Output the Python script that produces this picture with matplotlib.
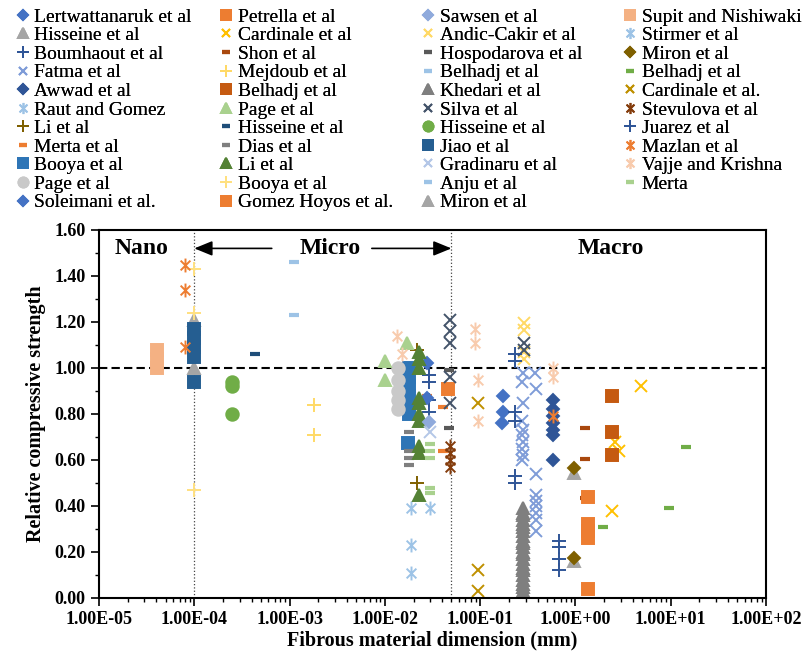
import matplotlib
matplotlib.use("Agg")
import matplotlib.pyplot as plt
from matplotlib.path import Path
from matplotlib.ticker import FuncFormatter, LogLocator, NullFormatter, MultipleLocator, FixedLocator

plt.rcParams['font.family'] = ['Liberation Serif', 'DejaVu Serif']

# fibre dimension (mm) and relative compressive strength, one pair per study
lert_x = [0.173, 0.175, 0.170]
lert_y = [0.88, 0.81, 0.76]
hisseine_tri_x = [1e-4, 1e-4]
hisseine_tri_y = [1.21, 1.00]
boumhaout_x = [0.029, 0.029, 0.029, 0.029]
boumhaout_y = [0.97, 0.94, 0.86, 0.81]
fatma_x = [0.28, 0.275, 0.28, 0.275, 0.28, 0.275, 0.28, 0.275, 0.28, 0.275,
           0.38, 0.39, 0.39, 0.39, 0.385, 0.39, 0.385, 0.39, 0.385]
fatma_y = [0.98, 0.94, 0.85, 0.77, 0.73, 0.71, 0.68, 0.65, 0.62, 0.60,
           0.98, 0.91, 0.54, 0.45, 0.42, 0.40, 0.37, 0.34, 0.29]
awwad_x = [0.58, 0.58, 0.58, 0.58, 0.58, 0.58, 0.58]
awwad_y = [0.86, 0.82, 0.79, 0.76, 0.73, 0.71, 0.60]
raut_x = [0.019, 0.019, 0.019]
raut_y = [0.39, 0.23, 0.11]
li_plus_x = [0.022, 0.022]
li_plus_y = [1.08, 0.50]
merta_dash_x = [0.028, 0.041, 0.041]
merta_dash_y = [0.88, 0.83, 0.64]
booya_sq_x = [0.018, 0.018, 0.018, 0.018, 0.018, 0.018, 0.0175]
booya_sq_y = [1.00, 0.96, 0.92, 0.88, 0.84, 0.80, 0.675]
page_circ_x = [0.0137, 0.0137, 0.0137, 0.0137, 0.0137]
page_circ_y = [1.00, 0.95, 0.90, 0.86, 0.82]
soleimani_x = [0.028, 0.028]
soleimani_y = [1.02, 0.87]
petrella_x = [0.046]
petrella_y = [0.91]
cardinale_x = [2.6, 2.9, 2.4, 4.9]
cardinale_y = [0.68, 0.64, 0.38, 0.92]
shon_x = [1.26, 1.26, 1.26]
shon_y = [0.74, 0.605, 0.435]
mejdoub_x = [0.0018, 0.0018]
mejdoub_y = [0.84, 0.71]
belhadj_sq_x = [2.4, 2.4, 2.4]
belhadj_sq_y = [0.88, 0.72, 0.62]
page_tri_x = [0.010, 0.010, 0.017]
page_tri_y = [1.03, 0.95, 1.11]
hisseine_dash_x = [4.3e-4]
hisseine_dash_y = [1.06]
dias_x = [0.018, 0.018, 0.018, 0.018]
dias_y = [0.72, 0.64, 0.61, 0.58]
li_tri_x = [0.023, 0.023, 0.023, 0.023, 0.023, 0.023, 0.023, 0.023, 0.023, 0.023]
li_tri_y = [1.07, 1.04, 1.00, 0.87, 0.85, 0.80, 0.77, 0.66, 0.63, 0.45]
booya_plus_x = [1e-4, 1e-4, 1e-4]
booya_plus_y = [1.43, 1.24, 0.47]
gomez_x = [1.35, 1.35, 1.35, 1.35, 1.35]
gomez_y = [0.44, 0.32, 0.29, 0.26, 0.04]
sawsen_x = [0.029]
sawsen_y = [0.765]
andic_x = [0.29, 0.29, 0.29, 0.29]
andic_y = [1.195, 1.165, 1.07, 1.04]
hospodarova_x = [0.047, 0.047]
hospodarova_y = [0.99, 0.74]
belhadj_dash_x = [1.1e-3]
belhadj_dash_y = [1.46]
khedari_x = [0.28, 0.28, 0.28, 0.28, 0.28, 0.28, 0.28, 0.28, 0.28, 0.28, 0.28, 0.28,
             0.28, 0.28, 0.28, 0.28, 0.28, 0.28, 0.28, 0.28, 0.28, 0.28, 0.28, 0.28]
khedari_y = [0.39, 0.37, 0.36, 0.34, 0.32, 0.31, 0.29, 0.27, 0.25, 0.24, 0.22, 0.20,
             0.19, 0.17, 0.15, 0.13, 0.12, 0.10, 0.08, 0.06, 0.05, 0.03, 0.02, 0.01]
silva_x = [0.048, 0.048, 0.048, 0.048, 0.048, 0.29, 0.29]
silva_y = [1.21, 1.16, 1.11, 0.96, 0.85, 1.11, 1.08]
hisseine_circ_x = [2.5e-4, 2.5e-4, 2.5e-4]
hisseine_circ_y = [0.94, 0.92, 0.80]
jiao_x = [1e-4, 1e-4, 1e-4, 1e-4, 1e-4]
jiao_y = [1.17, 1.13, 1.09, 1.05, 0.94]
gradinaru_x = [0.030]
gradinaru_y = [0.72]
anju_x = [1.1e-3]
anju_y = [1.23]
miron_tri_x = [0.96, 0.96]
miron_tri_y = [0.545, 0.16]
supit_x = [4.1e-5, 4.1e-5, 4.1e-5]
supit_y = [1.00, 1.04, 1.08]
stirmer_x = [0.030]
stirmer_y = [0.39]
miron_dia_x = [0.96, 0.96]
miron_dia_y = [0.565, 0.175]
belhadj_green_x = [14.4, 9.6, 1.95]
belhadj_green_y = [0.657, 0.39, 0.31]
cardinale2_x = [0.095, 0.095, 0.095]
cardinale2_y = [0.85, 0.12, 0.03]
stevulova_x = [0.048, 0.048, 0.048, 0.048]
stevulova_y = [0.66, 0.63, 0.60, 0.57]
juarez_x = [0.23, 0.23, 0.23, 0.23, 0.23, 0.23, 0.67, 0.67, 0.67, 0.67]
juarez_y = [1.06, 1.03, 0.81, 0.77, 0.53, 0.50, 0.25, 0.22, 0.17, 0.12]
mazlan_x = [8e-5, 8e-5, 8e-5, 0.58]
mazlan_y = [1.45, 1.34, 1.09, 0.79]
vajje_x = [0.0134, 0.015, 0.088, 0.088, 0.095, 0.095, 0.58, 0.58]
vajje_y = [1.14, 1.06, 1.17, 1.11, 0.95, 0.77, 1.00, 0.96]
merta_x = [0.030, 0.030, 0.030, 0.030, 0.030]
merta_y = [0.67, 0.64, 0.61, 0.48, 0.455]

x_ticks = [1e-5, 1e-4, 1e-3, 1e-2, 1e-1, 1e0, 1e1, 1e2]

# asterisk: vertical bar crossed by an x
star = Path([(0, -1), (0, 1), (-0.7, -0.7), (0.7, 0.7), (-0.7, 0.7), (0.7, -0.7)],
            [Path.MOVETO, Path.LINETO] * 3)

series = [
    ("Lertwattanaruk et al", lert_x, lert_y, "D", "#4472C4"),
    ("Hisseine et al", hisseine_tri_x, hisseine_tri_y, "^", "#A5A5A5"),
    ("Boumhaout et al", boumhaout_x, boumhaout_y, "+", "#2F5597"),
    ("Fatma et al", fatma_x, fatma_y, "x", "#7F9CD8"),
    ("Awwad et al", awwad_x, awwad_y, "D", "#2F5597"),
    ("Raut and Gomez", raut_x, raut_y, star, "#9DC3E6"),
    ("Li et al", li_plus_x, li_plus_y, "+", "#7F6000"),
    ("Merta et al", merta_dash_x, merta_dash_y, "_", "#ED7D31"),
    ("Booya et al", booya_sq_x, booya_sq_y, "s", "#2E75B6"),
    ("Page et al", page_circ_x, page_circ_y, "o", "#C9C9C9"),
    ("Soleimani et al.", soleimani_x, soleimani_y, "D", "#4472C4"),
    ("Petrella et al", petrella_x, petrella_y, "s", "#ED7D31"),
    ("Cardinale et al", cardinale_x, cardinale_y, "x", "#FFC000"),
    ("Shon et al", shon_x, shon_y, "_", "#A9480E"),
    ("Mejdoub et al", mejdoub_x, mejdoub_y, "+", "#FFD966"),
    ("Belhadj et al", belhadj_sq_x, belhadj_sq_y, "s", "#C55A11"),
    ("Page et al", page_tri_x, page_tri_y, "^", "#A9D18E"),
    ("Hisseine et al", hisseine_dash_x, hisseine_dash_y, "_", "#1F4E79"),
    ("Dias et al", dias_x, dias_y, "_", "#7F7F7F"),
    ("Li et al", li_tri_x, li_tri_y, "^", "#548235"),
    ("Booya et al", booya_plus_x, booya_plus_y, "+", "#FFE080"),
    ("Gomez Hoyos et al.", gomez_x, gomez_y, "s", "#ED7D31"),
    ("Sawsen et al", sawsen_x, sawsen_y, "D", "#8FAADC"),
    ("Andic-Cakir et al", andic_x, andic_y, "x", "#FFD966"),
    ("Hospodarova et al", hospodarova_x, hospodarova_y, "_", "#595959"),
    ("Belhadj et al", belhadj_dash_x, belhadj_dash_y, "_", "#9DC3E6"),
    ("Khedari et al", khedari_x, khedari_y, "^", "#7F7F7F"),
    ("Silva et al", silva_x, silva_y, "x", "#44546A"),
    ("Hisseine et al", hisseine_circ_x, hisseine_circ_y, "o", "#70AD47"),
    ("Jiao et al", jiao_x, jiao_y, "s", "#255E91"),
    ("Gradinaru et al", gradinaru_x, gradinaru_y, "x", "#B4C7E7"),
    ("Anju et al", anju_x, anju_y, "_", "#9DC3E6"),
    ("Miron et al", miron_tri_x, miron_tri_y, "^", "#A5A5A5"),
    ("Supit and Nishiwaki", supit_x, supit_y, "s", "#F4B183"),
    ("Stirmer et al", stirmer_x, stirmer_y, star, "#9DC3E6"),
    ("Miron et al", miron_dia_x, miron_dia_y, "D", "#7F6000"),
    ("Belhadj et al", belhadj_green_x, belhadj_green_y, "_", "#70AD47"),
    ("Cardinale et al.", cardinale2_x, cardinale2_y, "x", "#BF9000"),
    ("Stevulova et al", stevulova_x, stevulova_y, star, "#843C0C"),
    ("Juarez et al", juarez_x, juarez_y, "+", "#2F5597"),
    ("Mazlan et al", mazlan_x, mazlan_y, star, "#ED7D31"),
    ("Vajje and Krishna", vajje_x, vajje_y, star, "#F8CBAD"),
    ("Merta", merta_x, merta_y, "_", "#A9D18E"),
]

sizes = {"D": 6.5, "s": 8.5, "^": 9, "o": 9, "x": 8, "+": 10, "_": 7}

fig = plt.figure(figsize=(8.07, 6.54), dpi=100)
ax = fig.add_axes([99 / 807, 1 - 598 / 654, 667 / 807, 368 / 654])

handles = []
for name, xs, ys, m, c in series:
    key = m if isinstance(m, str) else "*"
    ms = sizes.get(key, 10)
    mew = 3 if m == "_" else 1.4
    h, = ax.plot(xs, ys, ls="none", marker=m, ms=ms, color=c, mec=c, mew=mew)
    handles.append(h)

ax.set_xscale("log")
ax.set_xlim(1e-5, 1e2)
ax.set_ylim(0, 1.6)

ax.axhline(1.0, color="black", lw=1.5, ls=(0, (4, 2)), zorder=1)
for xv in (1e-4, 0.05):
    ax.axvline(xv, color="#444444", lw=0.9, ls=":", zorder=1)

ax.text(2.8e-5, 1.52, "Nano", fontsize=17, fontweight="bold", ha="center", va="center")
ax.text(2.65e-3, 1.52, "Micro", fontsize=17, fontweight="bold", ha="center", va="center")
ax.text(2.36, 1.52, "Macro", fontsize=17, fontweight="bold", ha="center", va="center")
arrow = dict(arrowstyle="-|>,head_length=1.1,head_width=0.45", color="black", lw=1.2,
             shrinkA=0, shrinkB=0)
ax.annotate("", xy=(1e-4, 1.52), xytext=(6.5e-4, 1.52), arrowprops=arrow)
ax.annotate("", xy=(0.05, 1.52), xytext=(7.3e-3, 1.52), arrowprops=arrow)

ax.yaxis.set_major_locator(MultipleLocator(0.2))
ax.yaxis.set_minor_locator(MultipleLocator(0.1))
ax.yaxis.set_major_formatter(FuncFormatter(lambda v, p: f"{v:.2f}"))
ax.xaxis.set_major_locator(FixedLocator(x_ticks))
ax.xaxis.set_minor_locator(LogLocator(base=10, subs=range(2, 10), numticks=20))
ax.xaxis.set_minor_formatter(NullFormatter())
ax.xaxis.set_major_formatter(FuncFormatter(lambda v, p: f"{v:.2E}"))
ax.tick_params(which="major", length=6, width=1.2, direction="out", labelsize=13)
ax.tick_params(which="minor", length=3, width=1.0, direction="out")
for lab in ax.get_xticklabels() + ax.get_yticklabels():
    lab.set_fontweight("bold")
for sp in ax.spines.values():
    sp.set_linewidth(1.5)

ax.set_xlabel("Fibrous material dimension (mm)", fontsize=14.5, fontweight="bold", labelpad=2)
ax.set_ylabel("Relative compressive strength", fontsize=14.5, fontweight="bold", labelpad=6)

# four legend columns, placed separately
labels = [s[0] for s in series]
col_left = [17, 220, 422, 624]
groups = [(0, 11), (11, 22), (22, 33), (33, 43)]
for left, (a, b) in zip(col_left, groups):
    leg = fig.legend(handles[a:b], labels[a:b], loc="upper left",
                     bbox_to_anchor=(left / 807, 1 - 8 / 654), bbox_transform=fig.transFigure,
                     frameon=False, borderpad=0, borderaxespad=0, handlelength=0.6,
                     handletextpad=0.3, labelspacing=0.05, fontsize=14, markerscale=0.8)
    fig.add_artist(leg)

fig.savefig("out.png", dpi=100)
